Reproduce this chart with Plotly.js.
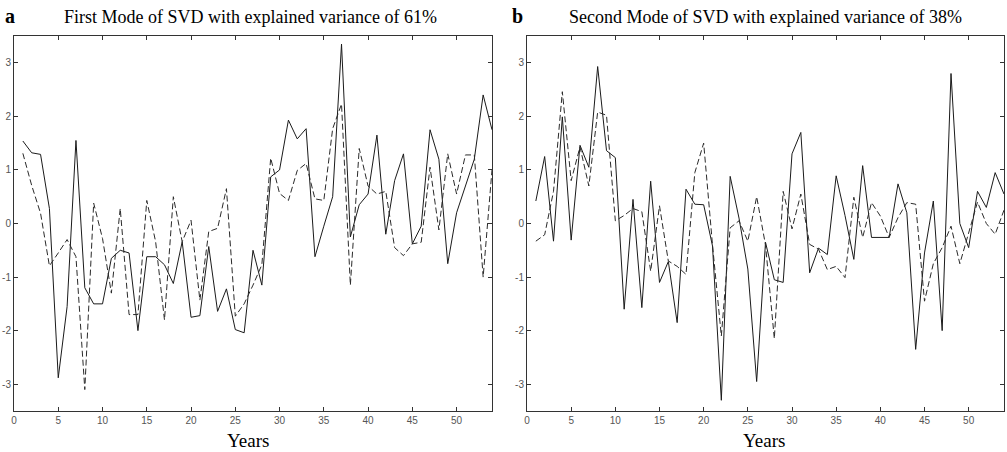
<!DOCTYPE html>
<html>
<head>
<meta charset="utf-8">
<script src="https://cdn.plot.ly/plotly-3.0.1.min.js"></script>
<style>html,body{margin:0;padding:0;background:#fff;}#chart{width:1007px;height:452px;}</style>
</head>
<body>
<div id="chart"></div>
<script>
const years = Array.from({length: 54}, (_, i) => i + 1);

const mode1Solid = [1.54, 1.32, 1.29, 0.28, -2.88, -1.55, 1.55, -1.2, -1.5, -1.5,
  -0.65, -0.5, -0.55, -2.0, -0.62, -0.62, -0.77, -1.12, -0.34, -1.75,
  -1.72, -0.43, -1.64, -1.22, -1.98, -2.04, -0.5, -1.15, 0.87, 1.0,
  1.93, 1.58, 1.77, -0.62, -0.05, 0.5, 3.35, -0.25, 0.35, 0.55,
  1.65, -0.2, 0.8, 1.3, -0.38, -0.05, 1.75, 1.2, -0.75, 0.2,
  0.7, 1.2, 2.4, 1.75];

const mode1Dashed = [1.31, 0.71, 0.19, -0.79, -0.55, -0.3, -0.62, -3.1, 0.38, -0.28,
  -1.3, 0.28, -1.7, -1.7, 0.43, -0.34, -1.8, 0.5, -0.34, 0.06,
  -1.43, -0.15, -0.09, 0.65, -1.73, -1.5, -1.15, -0.77, 1.22, 0.56,
  0.43, 0.99, 1.12, 0.46, 0.43, 1.77, 2.23, -1.15, 1.4, 0.7,
  0.55, 0.6, -0.45, -0.6, -0.38, -0.35, 1.05, -0.12, 1.3, 0.55,
  1.28, 1.28, -1.0, 1.0];

const mode2Solid = [0.42, 1.25, -0.33, 1.99, -0.31, 1.46, 1.05, 2.93, 1.36, 1.23,
  -1.6, 0.45, -1.57, 0.79, -1.1, -0.71, -1.85, 0.64, 0.36, 0.35,
  -0.42, -3.3, 0.88, 0.1, -0.85, -2.95, -0.35, -1.05, -1.1, 1.3,
  1.7, -0.92, -0.46, -0.58, 0.89, 0.15, -0.67, 1.08, -0.26, -0.26,
  -0.26, 0.74, 0.2, -2.35, -0.55, 0.42, -2.0, 2.8, 0.0, -0.45,
  0.6, 0.3, 0.95, 0.55];

const mode2Dashed = [-0.33, -0.21, 0.6, 2.46, 0.8, 1.43, 0.7, 2.08, 2.02, 0.05,
  0.15, 0.28, 0.22, -0.89, 0.33, -0.7, -0.8, -0.95, 0.95, 1.5,
  -0.4, -2.1, -0.08, 0.05, -0.33, 0.5, -0.4, -2.15, 0.6, -0.1,
  0.55, -0.39, -0.48, -0.86, -0.8, -1.01, 0.49, -0.26, 0.39, 0.14,
  -0.26, 0.11, 0.39, 0.36, -1.45, -0.75, -0.45, -0.05, -0.75, -0.15,
  0.4, 0.0, -0.2, 0.25];

const xTickVals = [0, 5, 10, 15, 20, 25, 30, 35, 40, 45, 50];
const yTickVals = [-3, -2, -1, 0, 1, 2, 3];
const yTickText = ['-3', '-2', '-1', '0', '1', '2', '3'];

const titleA = 'First Mode of SVD with explained variance of 61%';
const titleB = 'Second Mode of SVD with explained variance of 38%';
const xLabel = 'Years';

const solidLine = {color: '#1a1a1a', width: 1};
const dashedLine = {color: '#2a2a2a', width: 1, dash: '6px,3px'};

const traces = [
  {x: years, y: mode1Solid, xaxis: 'x', yaxis: 'y', mode: 'lines', line: solidLine},
  {x: years, y: mode1Dashed, xaxis: 'x', yaxis: 'y', mode: 'lines', line: dashedLine},
  {x: years, y: mode2Solid, xaxis: 'x2', yaxis: 'y2', mode: 'lines', line: solidLine},
  {x: years, y: mode2Dashed, xaxis: 'x2', yaxis: 'y2', mode: 'lines', line: dashedLine}
];

const tickFont = {family: 'Liberation Sans, Arial, sans-serif', size: 10, color: '#555'};
const W = 1007, H = 452;
const yDom = [1 - 411 / H, 1 - 36 / H];

function xAxis(dom, anchor) {
  return {domain: dom, anchor: anchor, range: [0, 54], tickvals: xTickVals,
    ticks: 'inside', ticklen: 4, tickcolor: '#333', showline: true, linecolor: '#333',
    linewidth: 1, mirror: 'ticks', showgrid: false, zeroline: false, tickfont: tickFont};
}
function yAxis(anchor) {
  return {domain: yDom, anchor: anchor, range: [-3.5, 3.5], tickvals: yTickVals, ticktext: yTickText,
    ticks: 'inside', ticklen: 4, tickcolor: '#333', showline: true, linecolor: '#333',
    linewidth: 1, mirror: 'ticks', showgrid: false, zeroline: false, tickfont: tickFont};
}

const serif = 'Liberation Serif, Times New Roman, serif';
const layout = {
  width: W, height: H,
  margin: {l: 0, r: 0, t: 0, b: 0},
  paper_bgcolor: '#fff', plot_bgcolor: '#fff',
  showlegend: false,
  xaxis: xAxis([14 / W, 492 / W], 'y'),
  yaxis: yAxis('x'),
  xaxis2: xAxis([527 / W, 1004 / W], 'y2'),
  yaxis2: yAxis('x2'),
  annotations: [
    {text: '<b>a</b>', xref: 'paper', yref: 'paper', x: 3 / W, y: 1 - 16 / H, xanchor: 'left', yanchor: 'middle', showarrow: false, font: {family: serif, size: 20, color: '#000'}},
    {text: titleA, xref: 'paper', yref: 'paper', x: 250 / W, y: 1 - 17 / H, xanchor: 'center', yanchor: 'middle', showarrow: false, font: {family: serif, size: 18, color: '#000'}},
    {text: '<b>b</b>', xref: 'paper', yref: 'paper', x: 510 / W, y: 1 - 16 / H, xanchor: 'left', yanchor: 'middle', showarrow: false, font: {family: serif, size: 20, color: '#000'}},
    {text: titleB, xref: 'paper', yref: 'paper', x: 765 / W, y: 1 - 17 / H, xanchor: 'center', yanchor: 'middle', showarrow: false, font: {family: serif, size: 18, color: '#000'}},
    {text: xLabel, xref: 'paper', yref: 'paper', x: 248 / W, y: 1 - 440 / H, xanchor: 'center', yanchor: 'middle', showarrow: false, font: {family: serif, size: 19, color: '#000'}},
    {text: xLabel, xref: 'paper', yref: 'paper', x: 764 / W, y: 1 - 440 / H, xanchor: 'center', yanchor: 'middle', showarrow: false, font: {family: serif, size: 19, color: '#000'}}
  ]
};

Plotly.newPlot('chart', traces, layout, {staticPlot: true, displayModeBar: false});
</script>
</body>
</html>
